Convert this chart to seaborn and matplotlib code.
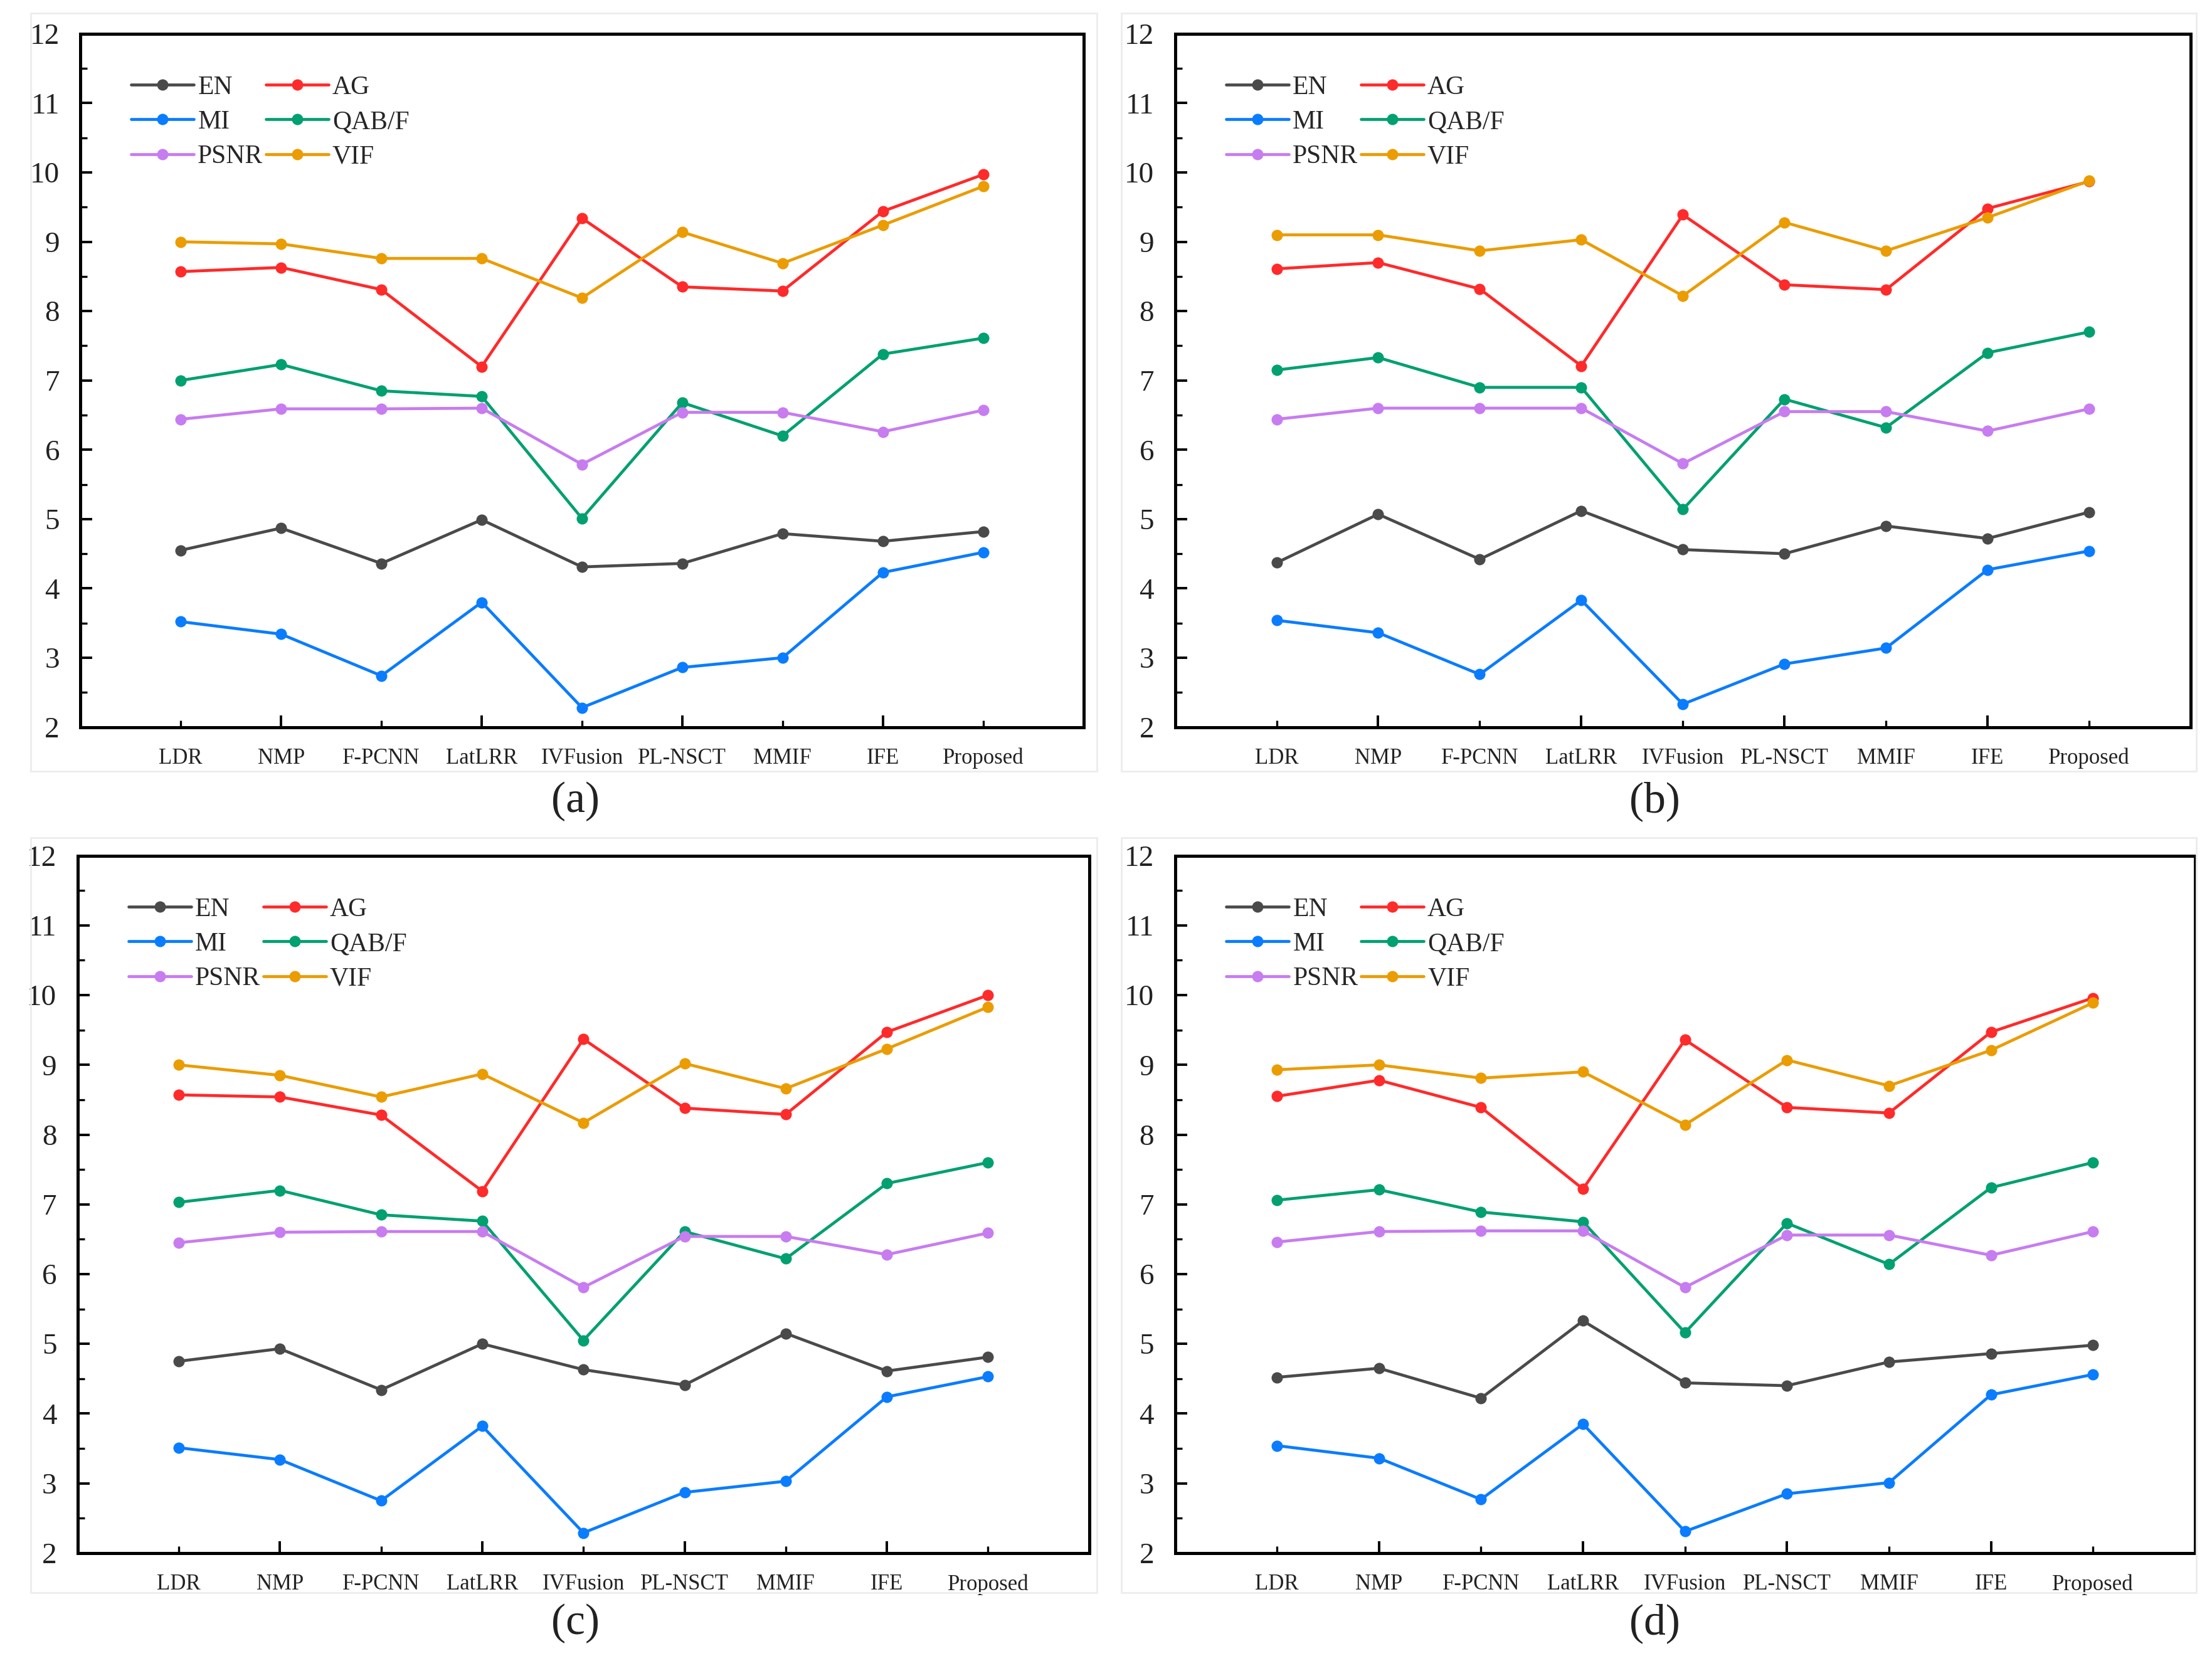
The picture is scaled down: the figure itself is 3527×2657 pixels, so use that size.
import pandas as pd
import numpy as np
import matplotlib.pyplot as plt
import matplotlib.patches as mpatches
from matplotlib.lines import Line2D
import seaborn as sns

# Methods on the x axis and the six metrics
methods = ["LDR", "NMP", "F-PCNN", "LatLRR", "IVFusion", "PL-NSCT", "MMIF", "IFE", "Proposed"]
metrics = ["EN", "AG", "MI", "QAB/F", "PSNR", "VIF"]

# (a)
a_EN = [4.55, 4.87, 4.36, 4.99, 4.31, 4.36, 4.79, 4.68, 4.82]
a_AG = [8.57, 8.63, 8.31, 7.20, 9.34, 8.35, 8.29, 9.44, 9.97]
a_MI = [3.52, 3.34, 2.74, 3.80, 2.28, 2.86, 3.00, 4.23, 4.52]
a_QABF = [7.00, 7.23, 6.85, 6.77, 5.01, 6.68, 6.20, 7.38, 7.61]
a_PSNR = [6.44, 6.59, 6.59, 6.60, 5.79, 6.54, 6.54, 6.26, 6.57]
a_VIF = [9.00, 8.97, 8.76, 8.76, 8.19, 9.14, 8.69, 9.24, 9.80]

# (b)
b_EN = [4.37, 5.07, 4.42, 5.12, 4.56, 4.50, 4.90, 4.72, 5.10]
b_AG = [8.61, 8.70, 8.32, 7.21, 9.39, 8.38, 8.31, 9.48, 9.87]
b_MI = [3.54, 3.36, 2.76, 3.83, 2.33, 2.91, 3.14, 4.27, 4.54]
b_QABF = [7.15, 7.33, 6.90, 6.90, 5.14, 6.73, 6.32, 7.40, 7.70]
b_PSNR = [6.44, 6.60, 6.60, 6.60, 5.80, 6.55, 6.55, 6.27, 6.59]
b_VIF = [9.10, 9.10, 8.87, 9.03, 8.22, 9.28, 8.87, 9.35, 9.88]

# (c)
c_EN = [4.75, 4.93, 4.34, 5.00, 4.63, 4.41, 5.15, 4.61, 4.81]
c_AG = [8.57, 8.54, 8.28, 7.19, 9.37, 8.38, 8.29, 9.47, 10.00]
c_MI = [3.51, 3.34, 2.75, 3.82, 2.29, 2.87, 3.03, 4.24, 4.53]
c_QABF = [7.03, 7.20, 6.85, 6.76, 5.05, 6.61, 6.22, 7.30, 7.60]
c_PSNR = [6.45, 6.60, 6.61, 6.61, 5.81, 6.54, 6.54, 6.28, 6.59]
c_VIF = [9.00, 8.85, 8.54, 8.87, 8.17, 9.02, 8.66, 9.23, 9.83]

# (d)
d_EN = [4.52, 4.65, 4.22, 5.33, 4.44, 4.40, 4.74, 4.86, 4.98]
d_AG = [8.55, 8.78, 8.39, 7.22, 9.36, 8.39, 8.31, 9.47, 9.96]
d_MI = [3.54, 3.36, 2.77, 3.85, 2.31, 2.85, 3.01, 4.27, 4.56]
d_QABF = [7.06, 7.21, 6.89, 6.75, 5.16, 6.73, 6.14, 7.24, 7.60]
d_PSNR = [6.46, 6.61, 6.62, 6.62, 5.81, 6.56, 6.56, 6.27, 6.61]
d_VIF = [8.93, 9.00, 8.81, 8.90, 8.14, 9.07, 8.70, 9.21, 9.89]

panels = {
    "(a)": [a_EN, a_AG, a_MI, a_QABF, a_PSNR, a_VIF],
    "(b)": [b_EN, b_AG, b_MI, b_QABF, b_PSNR, b_VIF],
    "(c)": [c_EN, c_AG, c_MI, c_QABF, c_PSNR, c_VIF],
    "(d)": [d_EN, d_AG, d_MI, d_QABF, d_PSNR, d_VIF],
}

PALETTE = {
    "EN": "#4a4a4a",
    "AG": "#ff2a2a",
    "MI": "#0a7cff",
    "QAB/F": "#00a070",
    "PSNR": "#c77cf0",
    "VIF": "#eb9c00",
}

sns.set_theme(style="white")
plt.rcParams['font.serif'] = ['Liberation Serif', 'DejaVu Serif']
plt.rcParams['font.family'] = 'serif'

fig = plt.figure(figsize=(3527 / 200, 2657 / 200), dpi=200)

# axes rectangles [left, bottom, width, height] and caption positions
layout = {
    "(a)": ([0.0364, 0.5636, 0.4534, 0.4161], (0.260, 0.519)),
    "(b)": ([0.5312, 0.5636, 0.4592, 0.4161], (0.748, 0.519)),
    "(c)": ([0.0351, 0.0678, 0.4573, 0.4186], (0.260, 0.0254)),
    "(d)": ([0.5312, 0.0678, 0.4611, 0.4186], (0.748, 0.0254)),
}

# faint frames around each panel, as in the source figure
for x0, y0, w, h in [(0.014, 0.537, 0.482, 0.455), (0.507, 0.537, 0.486, 0.455),
                     (0.014, 0.044, 0.482, 0.453), (0.507, 0.044, 0.486, 0.453)]:
    fig.patches.append(mpatches.Rectangle((x0, y0), w, h, transform=fig.transFigure,
                                          fill=False, edgecolor="#ececec", linewidth=1.0))

xpos = np.arange(len(methods))

for name, values in panels.items():
    rect, cap = layout[name]
    ax = fig.add_axes(rect)
    df = pd.DataFrame({
        "x": np.tile(xpos, len(metrics)),
        "value": np.concatenate(values),
        "metric": np.repeat(metrics, len(methods)),
    })
    sns.lineplot(data=df, x="x", y="value", hue="metric", hue_order=metrics,
                 palette=PALETTE, marker="o", markersize=6.5, markeredgewidth=0,
                 linewidth=1.7, legend=False, ax=ax)

    ax.set_xlim(-1, 9)
    ax.set_ylim(2, 12)
    ax.set_xlabel("")
    ax.set_ylabel("")
    ax.set_yticks(range(2, 13))
    ax.set_yticks(np.arange(2.5, 12, 1.0), minor=True)
    # long ticks on odd categories, short ticks on even ones, all labelled
    ax.set_xticks(xpos[1::2], labels=methods[1::2])
    ax.set_xticks(xpos[0::2], labels=methods[0::2], minor=True)
    ax.tick_params(axis="y", which="major", direction="in", length=7, width=1.4,
                   labelsize=17, pad=12, left=True, right=False, color="black")
    ax.tick_params(axis="y", which="minor", direction="in", length=4, width=1.2,
                   left=True, right=False, color="black")
    ax.tick_params(axis="x", which="major", direction="in", length=7, width=1.4,
                   labelsize=12.5, pad=12, bottom=True, top=False, color="black")
    ax.tick_params(axis="x", which="minor", direction="in", length=4, width=1.2,
                   labelsize=12.5, pad=12, bottom=True, top=False, color="black")
    for tl in ax.get_xticklabels(which="both") + ax.get_yticklabels():
        tl.set_color("#222222")
    for sp in ax.spines.values():
        sp.set_visible(True)
        sp.set_color("black")
        sp.set_linewidth(1.8)

    # legend in row order EN AG / MI QAB/F / PSNR VIF (matplotlib fills by column)
    order = ["EN", "MI", "PSNR", "AG", "QAB/F", "VIF"]
    handles = [Line2D([], [], color=PALETTE[m], marker="o", markersize=6.5,
                      markeredgewidth=0, linewidth=1.7) for m in order]
    ax.legend(handles, order, ncol=2, loc="upper left", bbox_to_anchor=(0.04, 0.955),
              frameon=False, fontsize=15, handlelength=2.4, handletextpad=0.15,
              columnspacing=0.1, labelspacing=0.4, borderaxespad=0)

    fig.text(cap[0], cap[1], name, ha="center", va="center", fontsize=25, color="#222222")

plt.savefig("out.png", dpi=200)
